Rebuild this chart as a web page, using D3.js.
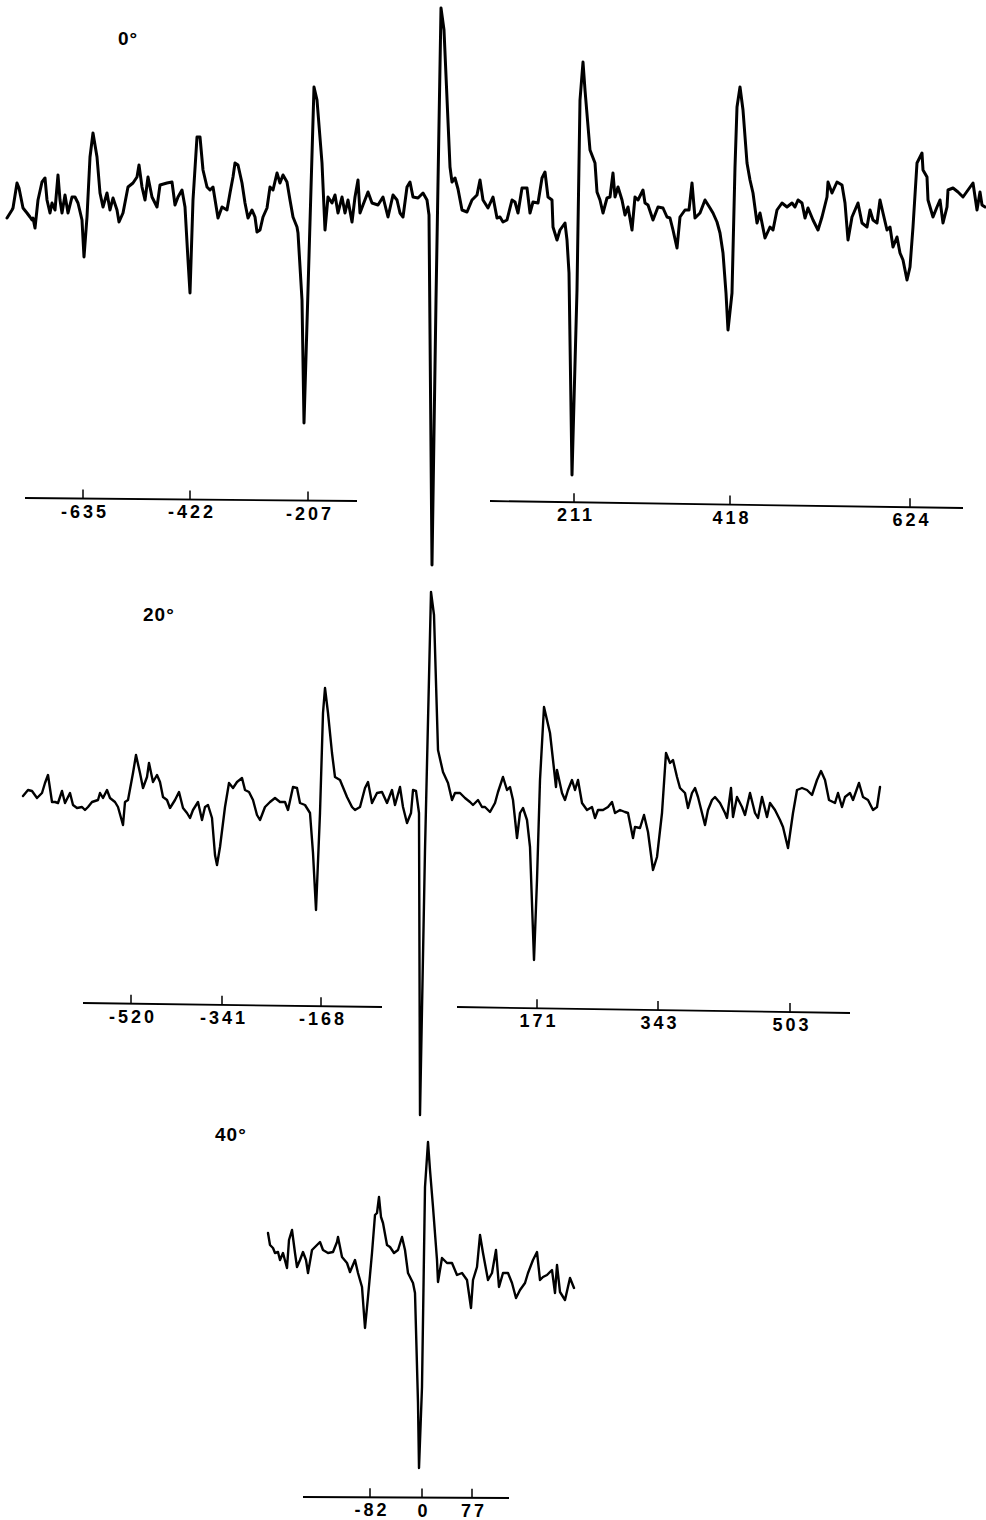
<!DOCTYPE html>
<html>
<head>
<meta charset="utf-8">
<script src="https://cdn.jsdelivr.net/npm/d3@7"></script>
<style>
  body { margin: 0; background: #fff; }
  text { font-family: "Liberation Sans", Arial, sans-serif; font-weight: bold; fill: #000; }
</style>
</head>
<body>
<script>
// traces: [chart position from centre line, signal amplitude above baseline]
const trace0 = [[-425,-13],[-420,-5],[-419,-3],[-415,22],[-413,17],[-409,-3],[-405,-8],[-402,-12],[-400,-15],[-399,-13],[-397,-23],[-394,5],[-390,23],[-387,27],[-385,5],[-382,-8],[-380,2],[-377,-5],[-374,30],[-372,5],[-370,-8],[-367,10],[-364,-8],[-360,8],[-357,8],[-354,2],[-350,-15],[-348,-52],[-345,-12],[-342,48],[-339,72],[-335,48],[-332,12],[-329,-2],[-325,12],[-322,-5],[-319,7],[-315,-5],[-313,-17],[-309,-8],[-304,18],[-299,22],[-295,28],[-293,40],[-290,18],[-287,5],[-284,28],[-280,8],[-275,-2],[-272,20],[-265,22],[-260,23],[-257,0],[-254,8],[-250,15],[-247,-2],[-244,-55],[-242,-88],[-239,5],[-235,68],[-232,68],[-229,35],[-225,18],[-222,15],[-219,18],[-214,-13],[-210,-2],[-205,-5],[-202,12],[-199,28],[-197,42],[-194,40],[-190,22],[-187,2],[-184,-13],[-180,-5],[-177,-12],[-175,-27],[-172,-25],[-169,-12],[-165,-3],[-162,18],[-159,15],[-155,32],[-152,22],[-149,30],[-145,23],[-142,5],[-139,-12],[-135,-22],[-134,-28],[-130,-95],[-128,-218],[-124,-85],[-118,118],[-115,105],[-110,42],[-107,-25],[-104,8],[-100,2],[-97,10],[-94,-8],[-90,8],[-87,-8],[-84,5],[-80,-17],[-77,8],[-74,25],[-72,-8],[-69,0],[-64,13],[-60,2],[-54,0],[-49,8],[-44,-12],[-39,10],[-35,5],[-32,-8],[-29,-12],[-25,18],[-22,23],[-19,8],[-14,7],[-9,12],[-5,5],[-3,-10],[0,-360],[4,-95],[9,197],[12,175],[18,38],[20,23],[23,27],[26,16],[30,-5],[35,-7],[40,5],[45,10],[48,25],[51,5],[56,-3],[61,8],[65,-13],[68,-12],[71,-17],[75,-15],[80,5],[83,3],[86,-8],[90,17],[95,17],[98,-8],[101,3],[106,2],[110,27],[113,33],[116,8],[120,5],[121,-22],[125,-35],[128,-25],[133,-18],[135,-35],[137,-68],[140,-270],[145,-85],[148,105],[151,143],[153,115],[158,55],[163,42],[165,13],[168,5],[171,-8],[175,7],[178,8],[181,32],[183,8],[186,18],[190,5],[193,-10],[196,-2],[200,-25],[203,8],[206,5],[211,15],[213,2],[216,0],[221,-15],[226,-2],[231,-3],[235,-12],[238,-13],[241,-25],[245,-43],[248,-12],[253,-5],[257,-5],[260,22],[263,-13],[268,-8],[273,5],[278,-3],[281,-8],[285,-17],[288,-28],[291,-48],[294,-88],[296,-125],[300,-88],[303,38],[305,98],[308,118],[311,95],[315,42],[318,25],[321,12],[325,-18],[328,-8],[333,-33],[338,-22],[341,-25],[345,-5],[350,2],[355,-2],[360,2],[363,-2],[366,5],[370,2],[373,-13],[376,-3],[381,-15],[386,-25],[390,-12],[395,8],[396,23],[400,12],[405,23],[410,20],[413,2],[416,-35],[420,-12],[423,-5],[426,2],[430,-18],[435,-22],[438,-5],[441,-15],[445,-18],[448,5],[451,-8],[455,-25],[458,-22],[461,-42],[465,-32],[468,-48],[471,-55],[475,-75],[478,-62],[481,-22],[485,42],[488,48],[490,52],[491,35],[495,28],[496,5],[501,-12],[505,-2],[508,5],[511,-18],[515,-2],[516,15],[521,17],[526,13],[531,8],[536,15],[541,22],[545,-5],[548,13],[550,0],[553,-2]];

const trace20 = [[-397,4],[-392,10],[-388,9],[-383,2],[-378,7],[-375,17],[-372,25],[-368,-2],[-365,-2],[-362,-3],[-358,9],[-355,-3],[-350,7],[-347,-5],[-343,-8],[-338,-7],[-335,-10],[-332,-7],[-328,-2],[-322,0],[-320,7],[-317,2],[-313,10],[-310,2],[-305,-2],[-302,-7],[-297,-25],[-295,-2],[-292,0],[-287,27],[-284,45],[-280,27],[-277,12],[-273,23],[-271,37],[-267,18],[-263,25],[-260,18],[-257,3],[-253,0],[-250,-8],[-245,0],[-241,8],[-237,-8],[-233,-13],[-230,-18],[-227,-10],[-222,-2],[-218,-20],[-215,-7],[-212,-5],[-208,-18],[-205,-55],[-203,-65],[-200,-47],[-195,-7],[-191,17],[-187,12],[-183,18],[-178,22],[-175,10],[-171,8],[-167,0],[-163,-15],[-160,-20],[-155,-7],[-150,-2],[-145,2],[-140,-2],[-135,-2],[-132,-10],[-127,13],[-123,12],[-120,-3],[-115,-5],[-110,-13],[-107,-53],[-104,-110],[-100,-13],[-97,87],[-95,112],[-92,87],[-88,47],[-85,23],[-80,20],[-73,3],[-68,-7],[-65,-10],[-60,-7],[-55,12],[-52,18],[-48,-3],[-43,7],[-38,8],[-33,-3],[-28,10],[-25,-5],[-20,13],[-17,-7],[-13,-23],[-9,-13],[-7,10],[-4,9],[-1,-13],[0,-315],[5,-50],[11,208],[14,185],[18,50],[23,28],[28,17],[32,0],[35,7],[40,7],[45,2],[50,-2],[53,-5],[58,0],[62,-7],[65,-7],[70,-12],[75,-3],[78,8],[83,23],[87,10],[90,13],[93,0],[97,-38],[100,-13],[103,-8],[107,-20],[110,-47],[114,-160],[117,-80],[120,20],[124,93],[127,80],[130,67],[133,40],[136,13],[137,30],[142,7],[145,0],[148,10],[152,20],[155,10],[158,20],[162,-3],[167,-10],[172,-7],[175,-18],[178,-10],[183,-10],[188,-7],[192,-2],[195,-13],[200,-10],[205,-12],[208,-13],[213,-38],[215,-27],[220,-28],[224,-15],[228,-32],[233,-70],[237,-57],[242,-13],[246,47],[250,37],[253,40],[257,23],[260,12],[265,7],[268,-8],[272,7],[275,12],[278,3],[282,-13],[285,-25],[288,-10],[292,0],[295,3],[300,-3],[305,-13],[307,-18],[311,12],[313,-17],[317,3],[322,-7],[325,-15],[330,7],[335,-13],[338,-18],[342,3],[347,-17],[350,-3],[355,-10],[360,-20],[363,-27],[368,-48],[373,-13],[377,10],[382,12],[387,10],[392,5],[397,20],[401,29],[405,20],[409,0],[415,-3],[418,7],[422,-7],[425,3],[430,7],[433,0],[439,17],[443,3],[448,0],[453,-10],[457,-7],[460,13]];

const trace40 = [[-154,27],[-152,15],[-149,12],[-147,7],[-144,8],[-142,0],[-139,7],[-135,-8],[-133,20],[-130,30],[-127,7],[-125,-7],[-122,0],[-119,8],[-116,0],[-114,-13],[-110,10],[-107,13],[-102,18],[-99,10],[-94,7],[-89,8],[-85,18],[-84,23],[-80,3],[-75,-3],[-72,-12],[-67,0],[-64,-13],[-60,-27],[-57,-68],[-54,-37],[-50,7],[-47,45],[-45,47],[-43,63],[-41,43],[-39,37],[-35,15],[-32,13],[-28,7],[-24,10],[-20,23],[-17,10],[-14,-13],[-9,-23],[-7,-33],[-4,-143],[-3,-208],[0,-127],[3,73],[6,118],[8,90],[11,53],[15,0],[16,-22],[20,2],[25,-3],[30,-3],[35,-15],[40,-13],[45,-20],[49,-48],[51,-20],[55,-7],[58,25],[61,7],[66,-20],[70,-13],[74,10],[77,-27],[81,-13],[86,-13],[90,-23],[94,-38],[98,-30],[103,-23],[106,-13],[111,0],[115,8],[118,-20],[121,-17],[125,-15],[130,-10],[133,-33],[135,-5],[138,-32],[143,-40],[148,-18],[152,-28]];

// marked line positions (field values) and where they sit on the chart
const ticks0 = [-635, -422, -207, 211, 418, 624];
const tickPos0 = [-349, -242, -124, 142, 298, 478];
const ticks20 = [-520, -341, -168, 171, 343, 503];
const tickPos20 = [-289, -198, -99, 117, 238, 370];
const ticks40 = [-82, 0, 77];
const tickPos40 = [-52, 0, 50];

const angles = ["0°", "20°", "40°"];

const W = 986, H = 1520;
const svg = d3.select("body").append("svg")
    .attr("width", W)
    .attr("height", H);

// layout of the three recordings
const panels = [
  {label: angles[0], data: trace0, ticks: ticks0, pos: tickPos0, cx: 432, base: 205, sw: 3,
   labelAt: [118, 45],
   axes: [[-407, -293, -75, -296], [58, -296, 531, -303]]},
  {label: angles[1], data: trace20, ticks: ticks20, pos: tickPos20, cx: 420, base: 800, sw: 2.4,
   labelAt: [143, 621],
   axes: [[-337, -203, -38, -207], [37, -207, 430, -213]]},
  {label: angles[2], data: trace40, ticks: ticks40, pos: tickPos40, cx: 422, base: 1260, sw: 2.4,
   labelAt: [215, 1141],
   axes: [[-119, -237, 87, -238]]}
];

panels.forEach(p => {
  const x = d3.scaleLinear().domain([-p.cx, W - p.cx]).range([0, W]);
  const y = d3.scaleLinear().domain([p.base - H, p.base]).range([H, 0]);
  const g = svg.append("g");

  const line = d3.line()
      .x(d => x(d[0]))
      .y(d => y(d[1]));

  g.append("path")
      .datum(p.data)
      .attr("d", line)
      .attr("fill", "none")
      .attr("stroke", "#000")
      .attr("stroke-width", p.sw)
      .attr("stroke-linejoin", "round")
      .attr("stroke-linecap", "round");

  // axis segments, slightly tilted like on the chart paper
  p.axes.forEach(a => {
    g.append("line")
        .attr("x1", x(a[0])).attr("y1", y(a[1]))
        .attr("x2", x(a[2])).attr("y2", y(a[3]))
        .attr("stroke", "#000").attr("stroke-width", 1.8);
  });

  // ticks and labels sit on whichever axis segment they fall in
  p.ticks.forEach((t, i) => {
    const u = p.pos[i];
    const seg = p.axes.find(a => u >= a[0] && u <= a[2]) || p.axes[0];
    const av = seg[1] + (seg[3] - seg[1]) * (u - seg[0]) / (seg[2] - seg[0]);
    g.append("line")
        .attr("x1", x(u)).attr("x2", x(u))
        .attr("y1", y(av)).attr("y2", y(av + 9))
        .attr("stroke", "#000").attr("stroke-width", 1.5);
    g.append("text")
        .attr("x", x(u) + 2)
        .attr("y", y(av) + 19)
        .attr("text-anchor", "middle")
        .attr("font-size", 18)
        .attr("letter-spacing", 3)
        .text(t < 0 ? "-" + Math.abs(t) : t);
  });

  g.append("text")
      .attr("x", p.labelAt[0])
      .attr("y", p.labelAt[1])
      .attr("font-size", 19)
      .attr("letter-spacing", 1)
      .text(p.label);
});
</script>
</body>
</html>
